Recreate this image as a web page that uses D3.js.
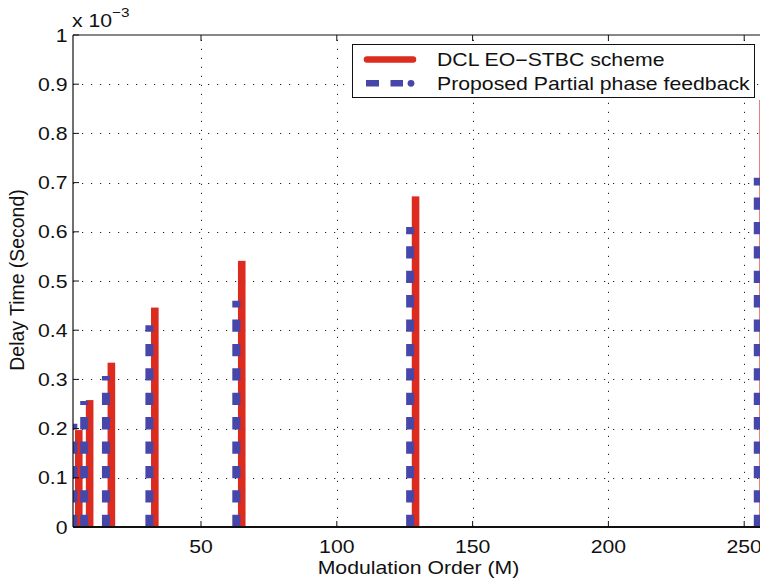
<!DOCTYPE html>
<html>
<head>
<meta charset="utf-8">
<script src="https://cdn.jsdelivr.net/npm/d3@7"></script>
<style>
  html, body { margin: 0; padding: 0; background: #fff; }
  svg { display: block; font-family: "Liberation Sans", Arial, Helvetica, sans-serif; }
</style>
</head>
<body>
<svg id="chart" width="760" height="580"></svg>
<script>
// ---- data ----
const modulationOrders = [4, 8, 16, 32, 64, 128, 256];
const dclDelay = [0.197, 0.258, 0.334, 0.446, 0.541, 0.672, 0.868];      // x 10^-3 s
const proposedDelay = [0.210, 0.256, 0.307, 0.410, 0.460, 0.610, 0.710]; // x 10^-3 s
const seriesNames = ["DCL EO\u2212STBC scheme", "Proposed Partial phase feedback"];
const xTicks = [50, 100, 150, 200, 250];
const yTicks = [0, 0.1, 0.2, 0.3, 0.4, 0.5, 0.6, 0.7, 0.8, 0.9, 1];

(function () {
// ---- layout ----
const svg = d3.select("#chart");
const pL = 73, pT = 35, pB = 527, pR = 800;
const red = "#dc2b1f", blue = "#4747a9";
const SX = 1.18;

const x = d3.scaleLinear().domain([0, 250]).range([65.2, 744.2]);
const y = d3.scaleLinear().domain([0, 1]).range([pB, pT]);

function txt(parent, tx, ty, str, anchor, size, sx) {
  const g = parent.append("g").attr("transform", `translate(${tx},${ty}) scale(${sx || SX},1)`);
  return g.append("text").attr("text-anchor", anchor || "start")
    .attr("font-size", size || 18).attr("fill", "#111").text(str);
}

svg.append("defs").append("clipPath").attr("id", "plotclip")
  .append("rect").attr("x", pL).attr("y", pT - 2).attr("width", pR - pL).attr("height", pB - pT + 2);

// gridlines
const grid = svg.append("g").attr("stroke", "#222").attr("stroke-width", 1)
  .attr("stroke-dasharray", "1.2,7.8");
grid.selectAll(".hg").data(yTicks.filter(d => d > 0 && d < 1)).join("line")
  .attr("x1", pL).attr("x2", pR)
  .attr("y1", d => Math.round(y(d)) + 0.5).attr("y2", d => Math.round(y(d)) + 0.5);
grid.selectAll(".vg").data(xTicks).join("line")
  .attr("y1", pB).attr("y2", pT)
  .attr("x1", d => Math.round(x(d)) + 0.5).attr("x2", d => Math.round(x(d)) + 0.5);

// bars
const plot = svg.append("g").attr("clip-path", "url(#plotclip)");
const off = x(1) - x(0);
plot.selectAll(".red").data(modulationOrders).join("rect")
  .attr("x", (d) => x(d) + off - 3.8)
  .attr("width", 7.6)
  .attr("y", (d, i) => y(dclDelay[i]))
  .attr("height", (d, i) => y(0) - y(dclDelay[i]))
  .attr("fill", red);
plot.selectAll(".blue").data(modulationOrders).join("line")
  .attr("x1", d => x(d) - off).attr("x2", d => x(d) - off)
  .attr("y1", y(0)).attr("y2", (d, i) => y(proposedDelay[i]))
  .attr("stroke", blue).attr("stroke-width", 8)
  .attr("stroke-dasharray", "12.3,12.1");

// axes frame
const axisG = svg.append("g").attr("stroke", "#111").attr("fill", "none");
axisG.append("line").attr("x1", pL).attr("x2", pL).attr("y1", pT).attr("y2", pB).attr("stroke-width", 1.2);
axisG.append("line").attr("x1", pL).attr("x2", 760).attr("y1", pB).attr("y2", pB).attr("stroke-width", 2);
axisG.append("line").attr("x1", pL).attr("x2", 760).attr("y1", pT).attr("y2", pT).attr("stroke-width", 1.2);

// ticks
axisG.selectAll(".yt").data(yTicks).join("line")
  .attr("x1", pL).attr("x2", pL + 6)
  .attr("y1", d => y(d)).attr("y2", d => y(d)).attr("stroke-width", 1);
axisG.selectAll(".xtb").data(xTicks).join("line")
  .attr("x1", d => x(d)).attr("x2", d => x(d))
  .attr("y1", pB).attr("y2", pB - 6).attr("stroke-width", 1);
axisG.selectAll(".xtt").data(xTicks).join("line")
  .attr("x1", d => x(d)).attr("x2", d => x(d))
  .attr("y1", pT).attr("y2", pT + 6).attr("stroke-width", 1);

// tick labels
const yl = svg.append("g");
yTicks.forEach(d => txt(yl, 67.5, y(d) + 6.5, String(+d.toFixed(1)), "end"));
const xl = svg.append("g");
xTicks.forEach(d => txt(xl, x(d), 553, String(d), "middle"));

// exponent label
const ex = txt(svg, 72, 26.5, "", "start");
ex.append("tspan").text("x 10");
ex.append("tspan").attr("dy", -10).attr("font-size", 13).text("\u22123");

// axis titles
txt(svg, 418.5, 573.5, "Modulation Order (M)", "middle");
svg.append("text").attr("transform", "translate(23.5,280) rotate(-90) scale(1.08,1.1)")
  .attr("text-anchor", "middle").attr("font-size", 18).attr("fill", "#111")
  .text("Delay Time (Second)");

// legend
const lg = svg.append("g");
lg.append("rect").attr("x", 352.5).attr("y", 44.5).attr("width", 402).attr("height", 53)
  .attr("fill", "#fff").attr("stroke", "#111").attr("stroke-width", 1);
lg.append("line").attr("x1", 367).attr("x2", 413).attr("y1", 59.5).attr("y2", 59.5)
  .attr("stroke", red).attr("stroke-width", 6.5).attr("stroke-linecap", "round");
lg.append("rect").attr("x", 366).attr("y", 80).attr("width", 13).attr("height", 6.5).attr("fill", blue);
lg.append("rect").attr("x", 390.5).attr("y", 80).attr("width", 12.5).attr("height", 6.5).attr("fill", blue);
lg.append("circle").attr("cx", 411).attr("cy", 83.3).attr("r", 3.4).attr("fill", blue);
seriesNames.forEach((d, i) => txt(lg, 437, 65.7 + i * 24.3, d, "start"));
})();
</script>
</body>
</html>
